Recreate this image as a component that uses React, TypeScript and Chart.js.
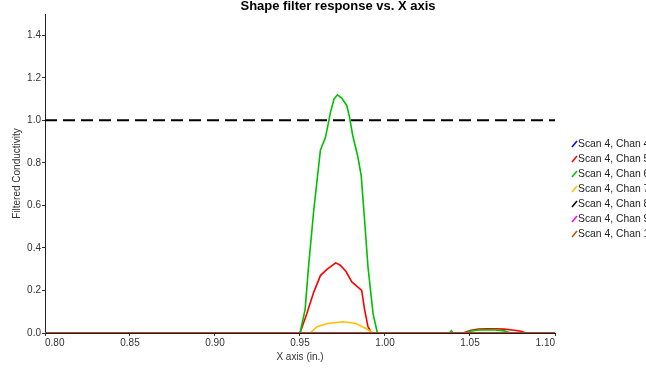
import { useEffect, useRef } from "react";
import { Chart, registerables } from "chart.js";

Chart.register(...registerables);

const chartTitle = "Shape filter response vs. X axis";
const xAxisTitle = "X axis (in.)";
const yAxisTitle = "Filtered Conductivity";

const xTickValues = [0.8, 0.85, 0.9, 0.95, 1.0, 1.05, 1.1];
const yTickValues = [0, 0.2, 0.4, 0.6, 0.8, 1.0, 1.2, 1.4];

const seriesLabels = [
  "Scan 4, Chan 4",
  "Scan 4, Chan 5",
  "Scan 4, Chan 6",
  "Scan 4, Chan 7",
  "Scan 4, Chan 8",
  "Scan 4, Chan 9",
  "Scan 4, Chan 10",
];
const seriesColors = ["#0000ff", "#ff0000", "#00c000", "#ffc000", "#000000", "#ff00ff", "#a65c00"];

const chan4X = [0.8, 1.1];
const chan4Y = [0, 0];

const chan5X = [0.8, 0.95, 0.954, 0.958, 0.962, 0.966, 0.971, 0.9735, 0.977, 0.9805, 0.9863, 0.988, 0.99, 0.992, 1.046, 1.05, 1.055, 1.06, 1.065, 1.07, 1.075, 1.08, 1.083, 1.1];
const chan5Y = [0, 0, 0.09, 0.19, 0.27, 0.3, 0.33, 0.32, 0.29, 0.24, 0.2, 0.11, 0.03, 0, 0, 0.012, 0.018, 0.02, 0.02, 0.018, 0.014, 0.008, 0, 0];

const chan6X = [0.8, 0.95, 0.953, 0.955, 0.958, 0.962, 0.965, 0.968, 0.97, 0.972, 0.9745, 0.9775, 0.979, 0.981, 0.984, 0.986, 0.988, 0.99, 0.993, 0.9955, 1.038, 1.039, 1.04, 1.047, 1.05, 1.055, 1.06, 1.065, 1.07, 1.074, 1.1];
const chan6Y = [0, 0, 0.11, 0.31, 0.57, 0.86, 0.92, 1.04, 1.1, 1.12, 1.105, 1.07, 1.02, 0.93, 0.83, 0.74, 0.53, 0.31, 0.09, 0, 0, 0.01, 0, 0, 0.008, 0.014, 0.015, 0.014, 0.01, 0, 0];

const chan7X = [0.8, 0.956, 0.96, 0.966, 0.9755, 0.983, 0.989, 0.993, 1.1];
const chan7Y = [0, 0, 0.03, 0.045, 0.053, 0.045, 0.02, 0, 0];

const chan8X = [0.8, 1.1];
const chan8Y = [0, 0];

const chan9X = [0.8, 1.1];
const chan9Y = [0, 0];

const chan10X = [0.8, 1.1];
const chan10Y = [0, 0];

const thresholdX = [0.8, 1.1];
const thresholdY = [1.0, 1.0];

const seriesX = [chan4X, chan5X, chan6X, chan7X, chan8X, chan9X, chan10X];
const seriesY = [chan4Y, chan5Y, chan6Y, chan7Y, chan8Y, chan9Y, chan10Y];

const FONT = '"Liberation Sans", Arial, sans-serif';

const toPoints = (xs: number[], ys: number[]) => xs.map((x, i) => ({ x, y: ys[i] }));

const overlayPlugin = {
  id: "overlay",
  afterDraw(chart: any) {
    const ctx = chart.ctx as CanvasRenderingContext2D;
    const area = chart.chartArea;
    ctx.save();
    ctx.font = `bold 13px ${FONT}`;
    ctx.fillStyle = "#000";
    ctx.textAlign = "center";
    ctx.textBaseline = "alphabetic";
    ctx.fillText(chartTitle, 338, 10);

    ctx.font = `10.35px ${FONT}`;
    ctx.textAlign = "left";
    ctx.textBaseline = "middle";
    const lx = area.right + 17;
    seriesLabels.forEach((label, i) => {
      const y = 144 + i * 15;
      ctx.strokeStyle = seriesColors[i];
      ctx.lineWidth = 1.5;
      ctx.beginPath();
      ctx.moveTo(lx, y + 3);
      ctx.lineTo(lx + 5, y - 3);
      ctx.stroke();
      ctx.fillStyle = "#222";
      ctx.fillText(label, lx + 6, y);
    });
    ctx.restore();
  },
};

export default function App() {
  const canvasRef = useRef<HTMLCanvasElement | null>(null);

  useEffect(() => {
    const canvas = canvasRef.current;
    if (!canvas) return;
    const datasets: any[] = seriesLabels.map((label, i) => ({
      label,
      data: toPoints(seriesX[i], seriesY[i]),
      borderColor: seriesColors[i],
      backgroundColor: seriesColors[i],
      borderWidth: 1.6,
      pointRadius: 0,
      tension: 0,
      fill: false,
      order: -i,
    }));
    datasets.push({
      label: "Threshold",
      data: toPoints(thresholdX, thresholdY),
      borderColor: "#000",
      borderWidth: 2,
      borderDash: [12, 6],
      pointRadius: 0,
      fill: false,
      order: 100,
    });

    const chart = new Chart(canvas, {
      type: "line",
      data: { datasets },
      plugins: [overlayPlugin],
      options: {
        animation: false,
        responsive: false,
        devicePixelRatio: 1,
        layout: { padding: { top: 14, right: 91, left: 0, bottom: 0 } },
        plugins: {
          legend: { display: false },
          title: { display: false },
          tooltip: { enabled: false },
        },
        scales: {
          x: {
            type: "linear",
            min: 0.8,
            max: 1.1,
            afterBuildTicks: (s: any) => {
              s.ticks = xTickValues.map((value) => ({ value }));
            },
            afterFit: (s: any) => {
              s.height = 38;
            },
            ticks: {
              align: "inner",
              padding: 1,
              color: "#333",
              maxRotation: 0,
              autoSkip: false,
              font: { family: FONT, size: 10 },
              callback: (v: any) => Number(v).toFixed(2),
            },
            grid: { display: true, drawOnChartArea: false, drawTicks: true, tickLength: 3, tickColor: "#333" },
            border: { display: true, color: "#222", width: 1 },
            title: { display: true, text: xAxisTitle, color: "#333", font: { family: FONT, size: 10 }, padding: { top: 0, bottom: 8 } },
          },
          y: {
            type: "linear",
            min: 0,
            max: 1.5,
            afterBuildTicks: (s: any) => {
              s.ticks = yTickValues.map((value) => ({ value }));
            },
            afterFit: (s: any) => {
              s.width = 45;
            },
            ticks: {
              padding: 1,
              color: "#333",
              autoSkip: false,
              font: { family: FONT, size: 10 },
              callback: (v: any) => Number(v).toFixed(1),
            },
            grid: { display: true, drawOnChartArea: false, drawTicks: true, tickLength: 3, tickColor: "#333" },
            border: { display: true, color: "#222", width: 1 },
            title: { display: true, text: yAxisTitle, color: "#333", font: { family: FONT, size: 10 }, padding: { top: 11.5, bottom: 0 } },
          },
        },
      },
    });
    return () => chart.destroy();
  }, []);

  return (
    <div style={{ position: "absolute", left: 0, top: 0, width: 646, height: 371, background: "#fff" }}>
      <canvas ref={canvasRef} width={646} height={371} style={{ display: "block", width: 646, height: 371 }} />
    </div>
  );
}
